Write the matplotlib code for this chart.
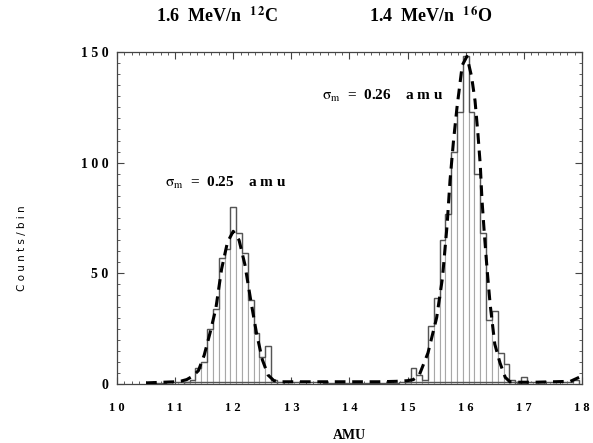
import numpy as np
import matplotlib.pyplot as plt
from matplotlib.ticker import MultipleLocator, FixedLocator

plt.rcParams['mathtext.fontset'] = 'stix'
SERIF = 'Liberation Serif'

# ---------------- DATA ----------------
# 12C peak, 0.1 amu bins
c_centers = [11.2, 11.3, 11.4, 11.5, 11.6, 11.7, 11.8, 11.9, 12.0,
             12.1, 12.2, 12.3, 12.4, 12.5, 12.6, 12.7]
c_counts = [1, 2, 7, 10, 25, 34, 57, 61, 80,
            68, 59, 38, 23, 12, 17, 2]

# 16O peak
o_centers = [15.0, 15.1, 15.2, 15.3, 15.4, 15.5, 15.6, 15.7, 15.8, 15.9, 16.0,
             16.1, 16.2, 16.3, 16.4, 16.5, 16.6, 16.7, 16.8, 16.9, 17.0]
o_counts = [1, 7, 4, 2, 26, 39, 65, 77, 105, 123, 148,
            123, 95, 68, 29, 33, 14, 9, 2, 0, 3]

# sparse background bins
bg_centers = [10.6, 10.9, 11.1, 12.8, 13.0, 13.6, 14.2, 14.9,
              17.1, 17.3, 17.5, 17.7, 17.9]
bg_counts = [0.5, 1, 1, 1, 1, 0.5, 0.5, 1,
             1, 1, 1, 1, 2]

# dashed fit curve
fit_x = [10.5, 10.8, 11.0, 11.1, 11.2, 11.3, 11.4, 11.5, 11.6, 11.7, 11.8,
         11.9, 12.0, 12.1, 12.2, 12.3, 12.4, 12.5, 12.6, 12.7, 12.8, 13.0,
         13.5, 14.0, 14.5, 14.8, 15.0, 15.1, 15.2, 15.35, 15.5, 15.6, 15.68,
         15.73, 15.79, 15.85, 15.94, 16.02, 16.1, 16.16, 16.21, 16.25, 16.28,
         16.32, 16.37, 16.42, 16.5, 16.59, 16.68, 16.76, 16.9, 17.2, 17.5,
         17.8, 17.95]
fit_y = [0.5, 0.8, 1.0, 1.3, 2, 3.5, 6, 13, 23, 34, 52,
         64, 69, 65, 54, 38, 23, 11, 4, 1.5, 1.0, 1.0,
         1.0, 1.0, 1.0, 1.2, 1.5, 2, 4, 14, 30, 48, 72,
         92, 110, 125, 144, 148, 139, 128, 113, 99, 83,
         68, 51, 36, 18, 9.5, 3, 1, 0.8, 0.8, 1.0,
         1.2, 3]

x_ticks = [10, 11, 12, 13, 14, 15, 16, 17, 18]
x_ticklabels = ['1 0', '1 1', '1 2', '1 3', '1 4', '1 5', '1 6', '1 7', '1 8']
y_ticks = [0, 50, 100, 150]
y_ticklabels = ['0', '5 0', '1 0 0', '1 5 0']
# -------------------------------------------------------------

fig = plt.figure(figsize=(5.93, 4.43), dpi=100)
ax = fig.add_axes([0.1973, 0.1332, 0.7841, 0.7494])

W = 0.1
for centers, counts in [(c_centers, c_counts), (o_centers, o_counts), (bg_centers, bg_counts)]:
    ax.bar(centers, counts, width=W, color='white', edgecolor='#a8a8a8', lw=0.8, zorder=2)
    # dark outline along the bar tops
    edges = list(np.array(centers) - W / 2) + [centers[-1] + W / 2]
    ax.stairs(counts, edges, color='#555555', lw=1.0, zorder=3)

ax.plot(fit_x, fit_y, color='black', lw=2.2, ls=(0, (3.5, 2.2)), zorder=4)

ax.set_xlim(10, 18)
ax.set_ylim(0, 150)
ax.xaxis.set_major_locator(FixedLocator(x_ticks))
ax.set_xticklabels(x_ticklabels, fontfamily=SERIF, fontweight='bold', fontsize=9)
ax.yaxis.set_major_locator(FixedLocator(y_ticks))
ax.set_yticklabels(y_ticklabels, fontfamily=SERIF, fontweight='bold', fontsize=10)
ax.xaxis.set_minor_locator(MultipleLocator(0.125))
ax.yaxis.set_minor_locator(MultipleLocator(5))
ax.tick_params(which='both', direction='in', top=True, right=True, color='#444444')
ax.tick_params(which='major', length=5, width=0.8)
ax.tick_params(which='minor', length=2.5, width=0.6)
ax.tick_params(axis='x', pad=13)
ax.tick_params(axis='y', pad=6)
for sp in ax.spines.values():
    sp.set_color('#444444')
    sp.set_linewidth(0.9)

ax.set_xlabel('AMU', fontfamily=SERIF, fontweight='bold', fontsize=10, labelpad=11)
fig.text(0.037, 0.44, 'C o u n t s / b i n', rotation=90, ha='center', va='center',
         fontsize=7.5, fontfamily='DejaVu Sans')

fig.text(0.367, 0.964, r'1.6  MeV/n  $^{\mathbf{1\,2}}$C', ha='center', va='center',
         fontfamily=SERIF, fontweight='bold', fontsize=13)
fig.text(0.727, 0.964, r'1.4  MeV/n  $^{\mathbf{1\,6}}$O', ha='center', va='center',
         fontfamily=SERIF, fontweight='bold', fontsize=13)

ax.text(10.83, 91, r'$\mathrm{\sigma}_{\mathrm{m}}$  =  0.25    a m u', ha='left', va='center',
        fontfamily=SERIF, fontweight='bold', fontsize=11)
ax.text(13.53, 130, r'$\mathrm{\sigma}_{\mathrm{m}}$  =  0.26    a m u', ha='left', va='center',
        fontfamily=SERIF, fontweight='bold', fontsize=11)

fig.savefig('out.png', dpi=100)
